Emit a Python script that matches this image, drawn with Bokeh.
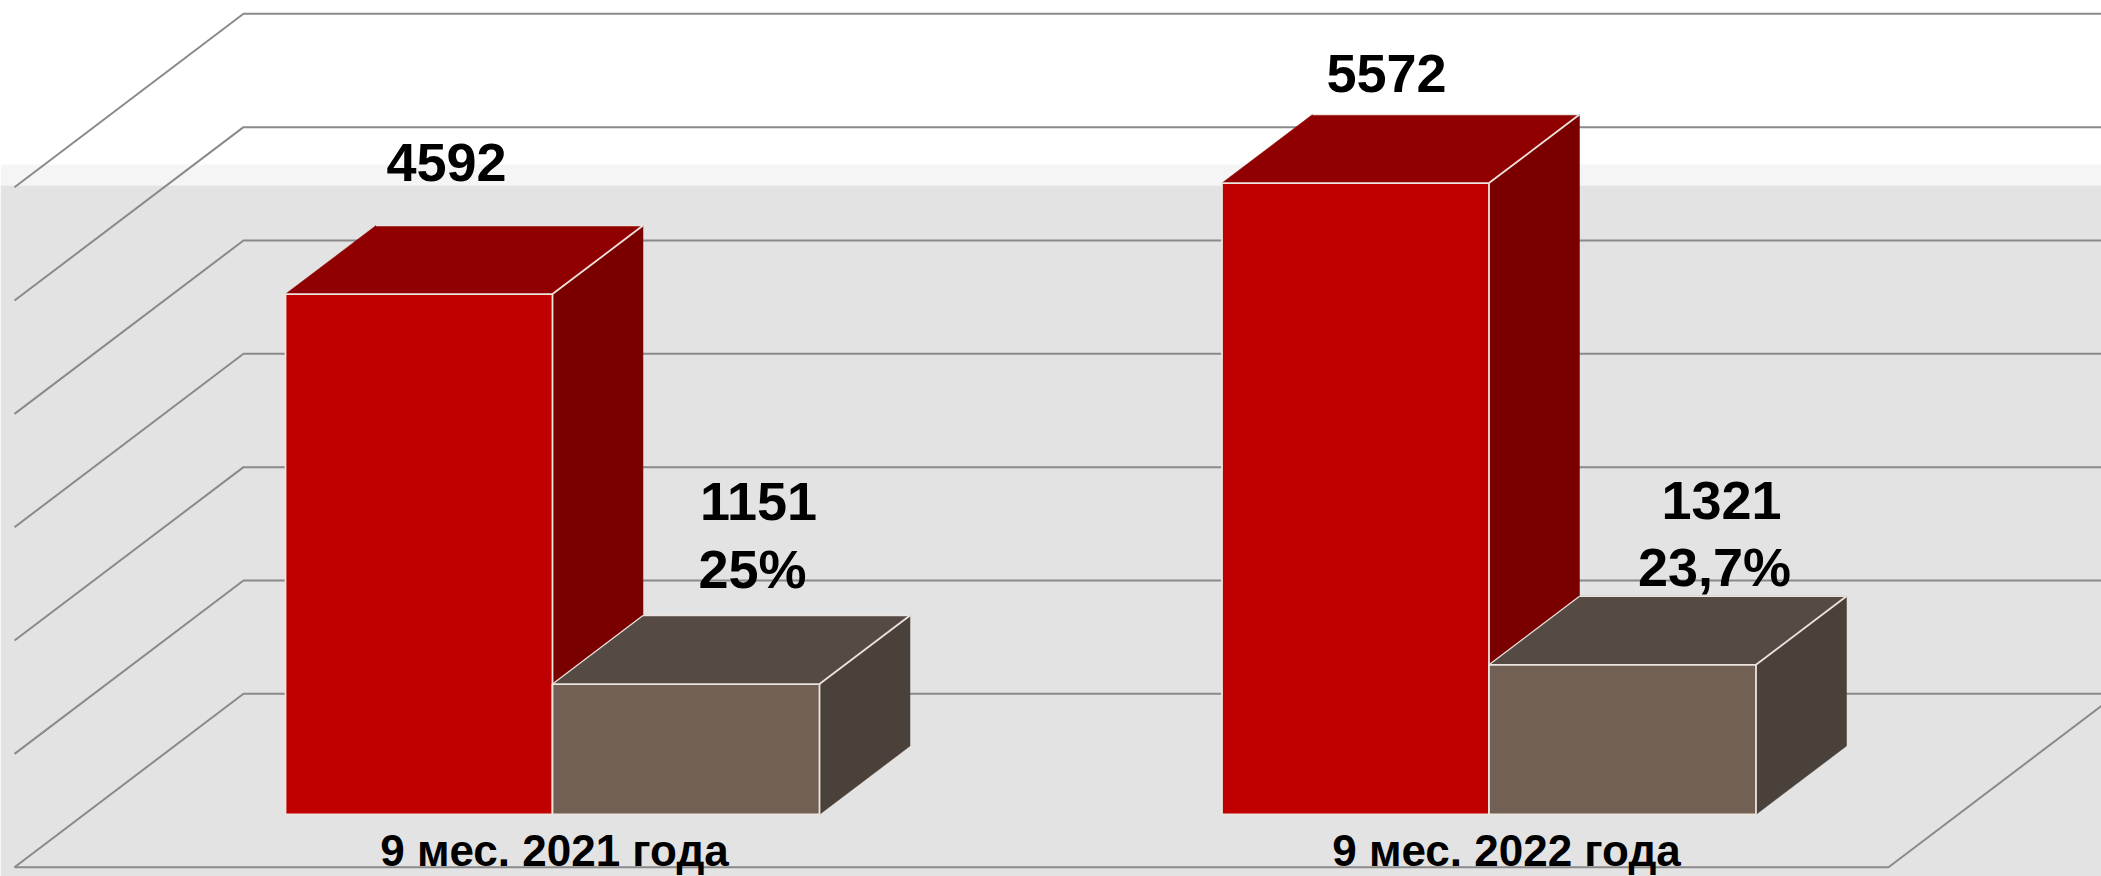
from bokeh.plotting import figure
from bokeh.models import Range1d, ColumnDataSource
from bokeh.core.properties import value
from bokeh.embed import file_html
from bokeh.resources import INLINE

# ---- data ----
categories = ["9 мес. 2021 года", "9 мес. 2022 года"]
totals = [4592, 5572]
parts = [1151, 1321]
part_share = ["25%", "23,7%"]
grid_values = [0, 1000, 2000, 3000, 4000, 5000, 6000]

# ---- layout (canvas pixels <-> value scale) ----
W, H = 2101, 876
PX_PER_UNIT = 0.11333
ZERO_PX = 814.0
def val(px):
    return (ZERO_PX - px) / PX_PER_UNIT

BAR_LEFT = [285.0, 1221.5]
BAR_W = 267.0
BAR_DX = 90.5
BAR_DV = 68.5 / PX_PER_UNIT
WALL_LEFT = 14.0
WALL_BACK = 243.0
FLOOR_RIGHT = 1888.0
BACK_V = val(693.3)
FRONT_V = val(866.7)

GRID = "#8a8a8a"
EDGE = "#ece4de"
FONT = value("Liberation Sans")

p = figure(width=W, height=H, x_range=Range1d(0, W), y_range=Range1d(val(H), val(0)),
           output_backend="svg", toolbar_location=None, min_border=0,
           outline_line_color=None, background_fill_color="white", border_fill_color="white")
p.axis.visible = False
p.grid.visible = False

# backdrop
p.quad(left=[0], right=[W], top=[val(164)], bottom=[val(185)], fill_color="#f5f5f5", line_color=None)
p.quad(left=[0], right=[W], top=[val(185)], bottom=[val(H)], fill_color="#e3e3e3", line_color=None)

# walls: back lines and left-wall diagonals, one for each grid value
p.multi_line(xs=[[WALL_LEFT, WALL_BACK, W] for _ in grid_values],
             ys=[[v + FRONT_V, v + BACK_V, v + BACK_V] for v in grid_values],
             line_color=GRID, line_width=2.0)
# floor front and right edges
p.line(x=[WALL_LEFT, FLOOR_RIGHT, FLOOR_RIGHT + (WALL_BACK - WALL_LEFT)],
       y=[FRONT_V, FRONT_V, BACK_V], line_color=GRID, line_width=2.0)


def box(x0, w, v, front, top, side, edge_left_diag):
    x1 = x0 + w
    p.patch([x1, x1 + BAR_DX, x1 + BAR_DX, x1], [v, v + BAR_DV, BAR_DV, 0],
            fill_color=side, line_color=side, line_width=0.5)
    p.patch([x0, x0 + BAR_DX, x1 + BAR_DX, x1], [v, v + BAR_DV, v + BAR_DV, v],
            fill_color=top, line_color=top, line_width=0.5)
    p.quad(left=[x0], right=[x1], bottom=[0], top=[v], fill_color=front,
           line_color=EDGE, line_width=1.8)
    p.line([x1, x1 + BAR_DX], [v, v + BAR_DV], line_color=EDGE, line_width=1.8)
    p.line([x0 + BAR_DX, x1 + BAR_DX], [v + BAR_DV, v + BAR_DV], line_color=EDGE, line_width=1.2)
    if edge_left_diag:
        p.line([x0, x0 + BAR_DX], [v, v + BAR_DV], line_color=EDGE, line_width=1.2)


for i in range(len(categories)):
    box(BAR_LEFT[i], BAR_W, totals[i], "#c00000", "#900000", "#7a0000", False)
    box(BAR_LEFT[i] + BAR_W, BAR_W, parts[i], "#726055", "#564a45", "#4a413a", True)

# labels
total_x = [446, 1386]
total_y = [162, 73]
part_x = [758, 1721]
part_y = [501, 500]
share_x = [752, 1714]
share_y = [568, 566]
cat_x = [554, 1506]
cat_y = 850


def label(xs, ys, texts, size):
    src = ColumnDataSource(dict(x=xs, y=[val(y) for y in ys], t=texts))
    p.text(x="x", y="y", text="t", source=src, text_font=FONT, text_font_style="bold",
           text_font_size=size, text_color="black", text_align="center", text_baseline="middle")


label(total_x, total_y, [str(v) for v in totals], "54px")
label(part_x, part_y, [str(v) for v in parts], "54px")
label(share_x, share_y, part_share, "54px")
label(cat_x, [cat_y, cat_y], categories, "44px")

open("out.html", "w").write(file_html(p, INLINE))
